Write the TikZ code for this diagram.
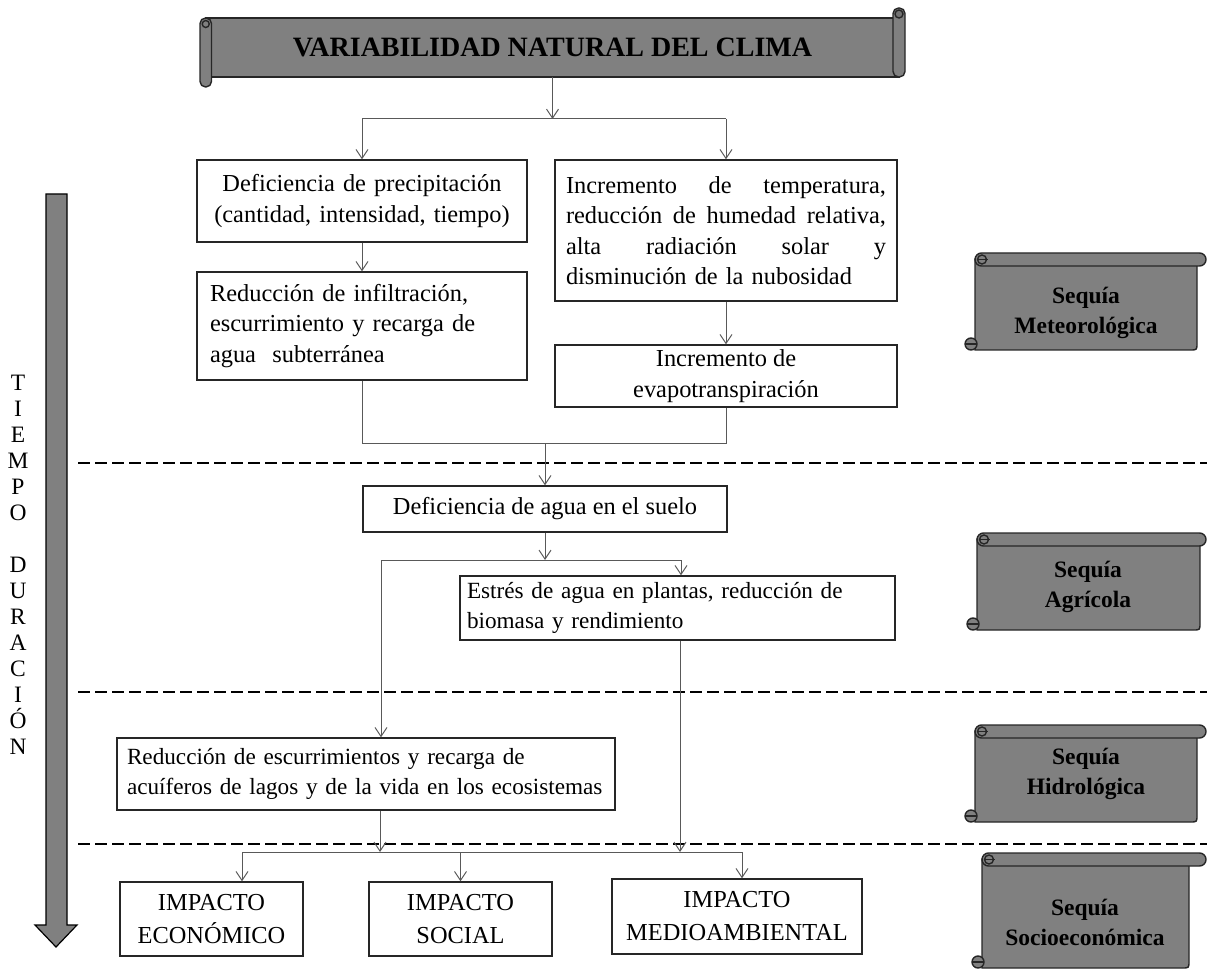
\documentclass[tikz,border=0pt]{standalone}
\usepackage{fontspec}
\setmainfont{Liberation Serif}
\usetikzlibrary{arrows.meta}
\definecolor{scrollgray}{RGB}{128,128,128}
\newcommand\bodyfont{\fontsize{24.4}{30.5}\selectfont}
\newcommand\smallbodyfont{\fontsize{23.2}{30.5}\selectfont}
\newcommand\impactfont{\fontsize{24.4}{33}\selectfont}
\newcommand\sidefont{\fontsize{23.5}{30}\selectfont\bfseries}
% a line stretched over the full measure
\newcommand\fullline[1]{\makebox[320pt][l]{#1}}

% side scroll: #1 left x, #2 body right x, #3 top y, #4 bottom y
\newcommand\sidescroll[4]{%
  \draw[scroll] (#1,{#3+6}) -- (#1,#4) -- ({#2-7},#4) .. controls (#2,#4) .. (#2,{#4-7}) -- (#2,{#3+6}) -- cycle;
  \draw[scroll, rounded corners=6.5pt] (#1,#3) rectangle (1206,{#3+13});
  \draw[scroll] ({#1+7},{#3+6.5}) circle (4.5pt);
  \draw[curl] ({#1+2.5},{#3+6.5}) -- ({#1+13},{#3+6.5});
  \draw[scroll] ({#1-4},{#4-6}) circle (6pt);
  \draw[curl] ({#1-10},{#4-6}) -- ({#1+2},{#4-6});
}

\begin{document}
\begin{tikzpicture}[x=1pt,y={(0,-1pt)},
  box/.style={draw=black!85, line width=1.3pt, fill=white, inner sep=0pt, font=\bodyfont},
  ibox/.style={box, font=\impactfont, align=center, minimum height=74pt},
  conn/.style={draw=black!65, line width=1pt},
  tip/.style={-{Straight Barb[length=9pt,width=12pt]}},
  scroll/.style={draw=black!85, line width=1.4pt, fill=scrollgray},
  curl/.style={draw=black!85, line width=1.2pt},
  phase/.style={draw=black, line width=2.9pt, dash pattern=on 12pt off 5pt},
  sidetext/.style={font=\sidefont, align=center, inner sep=0pt}]

\useasboundingbox (0,0) rectangle (1207,973);

% title scroll
\draw[scroll] (206,18) rectangle (899,77);
\draw[scroll, rounded corners=5.5pt] (200,18) rectangle (211.5,87);
\draw[scroll] (205.75,24) circle (3.5pt);
\draw[scroll, rounded corners=5.5pt] (893,8) rectangle (905,77);
\draw[scroll, fill=black!55] (899,14) circle (4pt);
\node[font=\fontsize{28}{30}\selectfont\bfseries, minimum width=687pt, minimum height=59pt, inner sep=0pt] (title) at (552.5,47.5) {VARIABILIDAD NATURAL DEL CLIMA};

% side scrolls
\sidescroll{975}{1197}{253}{350}
\sidescroll{977}{1200}{533}{630}
\sidescroll{975}{1197}{725}{822}
\sidescroll{982}{1189}{853}{968}
\node[sidetext] (met) at (1086,313) {Sequía\\Meteorológica};
\node[sidetext] (agr) at (1088,587) {Sequía\\Agrícola};
\node[sidetext] (hid) at (1086,774) {Sequía\\Hidrológica};
\node[sidetext] (soc) at (1085,922) {Sequía\\Socioeconómica};

% time arrow and its label
\draw[line width=1.2pt, fill=scrollgray] (46,194) -- (67,194) -- (67,925) -- (77,925) -- (56,947) -- (35,925) -- (46,925) -- cycle;
\node[font=\fontsize{23.5}{26}\selectfont, align=center, inner sep=0pt] (tiempo) at (18,565)
  {T\\I\\E\\M\\P\\O\\[26pt]D\\U\\R\\A\\C\\I\\Ó\\N};

% phase separators
\coordinate (d1a) at (78,463);  \coordinate (d1b) at (1207,463);
\coordinate (d2a) at (78,692);  \coordinate (d2b) at (1207,692);
\coordinate (d3a) at (78,844);  \coordinate (d3b) at (1207,844);
\draw[phase] (d1a) -- (d1b);
\draw[phase] (d2a) -- (d2b);
\draw[phase] (d3a) -- (d3b);

% boxes
\node[box, minimum width=330pt, minimum height=82pt, text width=320pt, align=center] (b1) at (362,201)
  {Deficiencia de precipitación\\(cantidad, intensidad, tiempo)};
\node[box, minimum width=342pt, minimum height=141pt, text width=320pt, align=left] (b2) at (726,230.5)
  {\fullline{Incremento\hfill de\hfill temperatura,}\\
   \fullline{reducción\hfill de\hfill humedad\hfill relativa,}\\
   \fullline{alta\hfill radiación\hfill solar\hfill y}\\
   disminución de la nubosidad};
\node[box, minimum width=330pt, minimum height=108pt, text width=304pt, align=left] (b3) at (362,326)
  {Reducción de infiltración,\\escurrimiento y recarga de\\agua\ \ subterránea};
\node[box, minimum width=342pt, minimum height=62pt, align=center] (b4) at (726,376)
  {Incremento de\\evapotranspiración};
\node[box, minimum width=364pt, minimum height=46pt, align=center] (b5) at (545,509)
  {Deficiencia de agua en el suelo};
\node[box, font=\smallbodyfont, minimum width=435pt, minimum height=64pt, text width=421pt, align=left] (b6) at (677.5,608)
  {\mbox{Estrés de agua en plantas, reducción de}\\\mbox{biomasa y rendimiento}};
\node[box, font=\smallbodyfont, minimum width=498pt, minimum height=72pt, text width=478pt, align=left] (b7) at (366,774)
  {\mbox{Reducción de escurrimientos y recarga de}\\\mbox{acuíferos de lagos y de la vida en los ecosistemas}};
\node[ibox, minimum width=183pt] (e1) at (211.5,919) {IMPACTO\\ECONÓMICO};
\node[ibox, minimum width=183pt] (e2) at (460.5,919) {IMPACTO\\SOCIAL};
\node[ibox, minimum width=250pt, minimum height=75pt] (e3) at (737,916.5) {IMPACTO\\MEDIOAMBIENTAL};

% connectors
\coordinate (br1) at (553,119);
\draw[conn,tip] (title.south) -- (title.south |- br1);
\draw[conn] (b1.north |- br1) -- (b2.north |- br1);
\draw[conn,tip] (b1.north |- br1) -- (b1.north);
\draw[conn,tip] (b2.north |- br1) -- (b2.north);
\draw[conn,tip] (b1) -- (b3);
\draw[conn,tip] (b2) -- (b4);
\coordinate (mg) at (545,443);
\draw[conn] (b3.south) |- (b4.south |- mg) -- (b4.south);
\draw[conn,tip] (b5.north |- mg) -- (b5.north);
\coordinate (br2) at (545,560);
\draw[conn,tip] (b5.south) -- (br2);
\coordinate (br2l) at (381,560);
\coordinate (br2r) at (681,560);
\draw[conn] (br2l) -- (br2r);
\draw[conn,tip] (br2r) -- (br2r |- b6.north);
\draw[conn,tip] (br2l) -- (br2l |- b7.north);
\coordinate (s6) at (680,852);
\coordinate (s7) at (380,852);
\draw[conn,tip] (s6 |- b6.south) -- (s6);
\draw[conn,tip] (s7 |- b7.south) -- (s7);
\coordinate (br3l) at (242,852);
\coordinate (br3r) at (742,852);
\draw[conn] (br3l) -- (br3r);
\draw[conn,tip] (br3l) -- (br3l |- e1.north);
\draw[conn,tip] (e2.north |- br3l) -- (e2.north);
\draw[conn,tip] (br3r) -- (br3r |- e3.north);
\end{tikzpicture}
\end{document}
